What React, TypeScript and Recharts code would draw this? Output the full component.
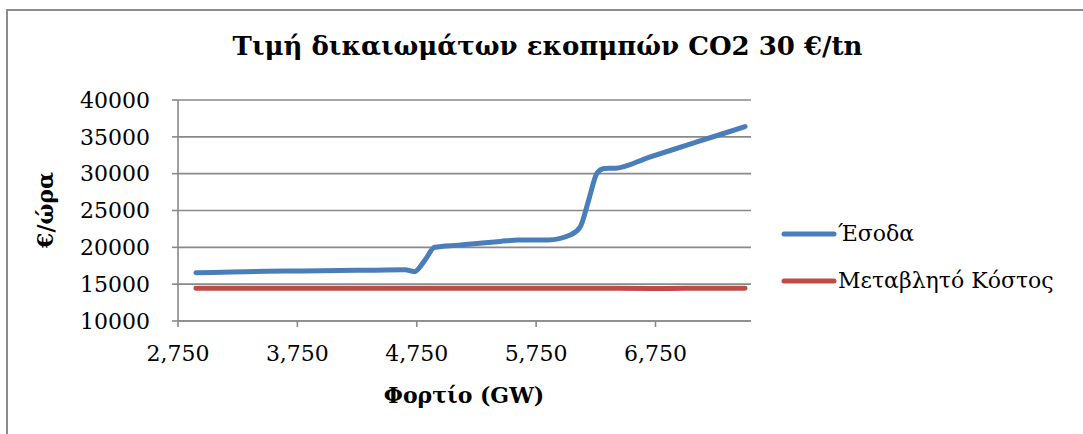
import { CartesianGrid, Line, LineChart, XAxis, YAxis } from "recharts";

// Φορτίο (GW) on the x axis, €/ώρα on the y axis
const loads = [
  2900, 3200, 3500, 3800, 4100, 4400, 4650, 4730, 4820, 4900, 5100, 5300, 5450,
  5600, 5850, 6040, 6120, 6190, 6260, 6320, 6420, 6700, 7000, 7300, 7500,
];
const revenue = [
  16550, 16650, 16750, 16800, 16850, 16900, 16950, 16700, 18300, 20000, 20300,
  20600, 20800, 21000, 21000, 21700, 22800, 26400, 30050, 30700, 30750, 32250,
  33800, 35350, 36400,
];
const variableCost = [
  14450, 14430, 14450, 14440, 14450, 14430, 14460, 14450, 14440, 14450, 14450,
  14460, 14450, 14450, 14450, 14450, 14460, 14450, 14450, 14440, 14430, 14420,
  14430, 14430, 14440,
];
const xTicks = [2750, 3750, 4750, 5750, 6750];
const yTicks = [10000, 15000, 20000, 25000, 30000, 35000, 40000];

const seriesNames = ["Έσοδα", "Μεταβλητό Κόστος"];
const BLUE = "#4a7ebb";
const RED = "#be4b48";
const GRID = "#898989";
const FONT = "'DejaVu Serif', serif";

const data = loads.map((load, i) => ({
  load,
  revenue: revenue[i],
  cost: variableCost[i],
}));

function ChartLegend() {
  const colors = [BLUE, RED];
  return (
    <div
      style={{
        position: "absolute",
        left: 781,
        top: 210,
        fontFamily: FONT,
        fontSize: 22,
        color: "#000",
      }}
    >
      {seriesNames.map((name, i) => (
        <div
          key={name}
          style={{ display: "flex", alignItems: "center", height: 47 }}
        >
          <svg width={56} height={10}>
            <line
              x1={3}
              y1={5}
              x2={53}
              y2={5}
              stroke={colors[i]}
              strokeWidth={5}
              strokeLinecap="round"
            />
          </svg>
          <span style={{ marginLeft: 1, whiteSpace: "nowrap" }}>{name}</span>
        </div>
      ))}
    </div>
  );
}

export default function App() {
  return (
    <div
      style={{
        position: "absolute",
        left: 0,
        top: 0,
        width: 1083,
        height: 434,
        overflow: "hidden",
        background: "#fff",
        fontFamily: FONT,
      }}
    >
      <div
        style={{
          position: "absolute",
          left: 6,
          top: 9,
          width: 1100,
          height: 500,
          border: "2px solid #8c8c8c",
        }}
      />
      <div
        style={{
          position: "absolute",
          left: 0,
          top: 31,
          width: 1095,
          textAlign: "center",
          fontSize: 26,
          fontWeight: "bold",
          whiteSpace: "nowrap",
        }}
      >
        Τιμή δικαιωμάτων εκοπμπών CO2 30 €/tn
      </div>
      <div
        style={{
          position: "absolute",
          left: 45,
          top: 210,
          transform: "translate(-50%, -50%) rotate(-90deg)",
          fontSize: 22,
          fontWeight: "bold",
          whiteSpace: "nowrap",
        }}
      >
        €/ώρα
      </div>
      <div
        style={{
          position: "absolute",
          left: 464,
          top: 395,
          transform: "translate(-50%, -50%)",
          fontSize: 22,
          fontWeight: "bold",
          whiteSpace: "nowrap",
        }}
      >
        Φορτίο (GW)
      </div>
      <div style={{ position: "absolute", left: 0, top: 0 }}>
        <LineChart
          width={1083}
          height={434}
          data={data}
          margin={{ top: 100, right: 332, bottom: 83, left: 78 }}
        >
          <CartesianGrid
            horizontal
            vertical={false}
            stroke={GRID}
            strokeWidth={1.6}
          />
          <XAxis
            dataKey="load"
            type="number"
            domain={[2750, 7550]}
            ticks={xTicks}
            tickFormatter={(v: number) => v.toLocaleString("en-US")}
            height={30}
            tickSize={6}
            tickMargin={18}
            axisLine={{ stroke: GRID, strokeWidth: 1.6 }}
            tickLine={{ stroke: GRID, strokeWidth: 1.6 }}
            tick={{ fill: "#000", fontSize: 22, fontFamily: FONT }}
            interval={0}
          />
          <YAxis
            type="number"
            domain={[10000, 40000]}
            ticks={yTicks}
            width={100}
            tickSize={6}
            tickMargin={22}
            axisLine={{ stroke: GRID, strokeWidth: 1.6 }}
            tickLine={{ stroke: GRID, strokeWidth: 1.6 }}
            tick={{ fill: "#000", fontSize: 22, fontFamily: FONT }}
            interval={0}
          />
          <Line
            type="monotone"
            dataKey="cost"
            name={seriesNames[1]}
            stroke={RED}
            strokeWidth={5}
            strokeLinecap="round"
            dot={false}
            isAnimationActive={false}
          />
          <Line
            type="monotone"
            dataKey="revenue"
            name={seriesNames[0]}
            stroke={BLUE}
            strokeWidth={5}
            strokeLinecap="round"
            dot={false}
            isAnimationActive={false}
          />
        </LineChart>
      </div>
      <ChartLegend />
    </div>
  );
}
